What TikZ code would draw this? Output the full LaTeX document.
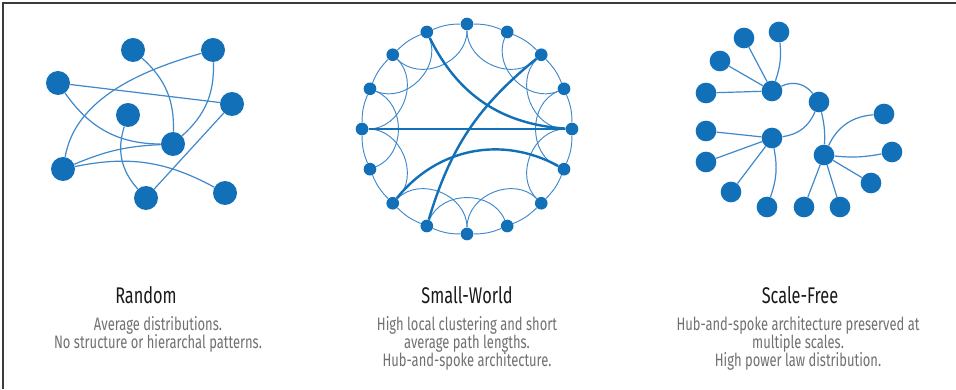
\documentclass[tikz,border=0pt]{standalone}
\usepackage{fontspec}
\setmainfont[FakeStretch=0.72]{Fira Sans}
\definecolor{netblue}{RGB}{17,112,184}
\definecolor{linkblue}{RGB}{62,136,203}
\definecolor{capgray}{RGB}{112,112,112}
\definecolor{framegray}{RGB}{60,60,60}

\begin{document}
\begin{tikzpicture}[x=0.75pt,y=0.75pt,every text node part/.style={align=center},
	rnode/.style={circle,fill=netblue,inner sep=0pt,minimum size=18pt},
	swnode/.style={circle,fill=netblue,inner sep=0pt,minimum size=9.5pt},
	sfnode/.style={circle,fill=netblue,inner sep=0pt,minimum size=15.5pt},
	link/.style={linkblue,line width=0.9pt},
	swlink/.style={linkblue,line width=0.7pt},
	shortcut/.style={netblue,line width=1.8pt},
	title/.style={font=\fontsize{17}{20}\selectfont,text=black!90},
	caption/.style={font=\fontsize{13.5}{13.5}\selectfont,text=capgray}]
	\useasboundingbox (0,0) rectangle (956,389);
	\draw[framegray,line width=1.1pt] (3,0) -- (3,386) -- (956,386);
	
	%random
	\node[rnode] (ra) at (133,339) {};
	\node[rnode] (rb) at (213,339) {};
	\node[rnode] (rc) at (58,306) {};
	\node[rnode] (rd) at (232,285) {};
	\node[rnode] (re) at (128,274) {};
	\node[rnode] (rf) at (173,245) {};
	\node[rnode] (rg) at (63,220) {};
	\node[rnode] (rh) at (146,191) {};
	\node[rnode] (ri) at (225,196) {};
	\draw[link] (ra) to[bend left=25] (rf);
	\draw[link] (rb) to[bend left=25] (rf);
	\draw[link] (rc) -- (rd);
	\draw[link] (rc) to[out=-55,in=180] (rf);
	\draw[link] (rb) to[out=196,in=80,looseness=0.9] (rg);
	\draw[link] (rg) to[bend left=10] (rf);
	\draw[link] (rg) to[bend left=20] (ri);
	\draw[link] (re) to[bend right=30] (rh);
	\draw[link] (rd) -- (rh);
	
	%small world
	\begin{scope}[shift={(467,260)}]
		\foreach \i in {0,...,15}
			\node[swnode] (s\i) at ({\i*22.5}:105) {};
	\end{scope}
	\foreach \i [evaluate=\i as \j using {int(mod(\i+1,16))}] in {0,...,15}
		\draw[swlink] (s\i) to[bend right=11] (s\j);
	\foreach \a/\b [evaluate=\a as \oa using {\a*22.5+180}, evaluate=\b as \ob using {\b*22.5+180}]
		in {4/6,5/7,6/8,7/9,8/10,10/12,11/13,12/14,14/0,15/1,0/2,1/3,2/4}
		\draw[swlink] (s\a) to[out=\oa,in=\ob,looseness=1.1] (s\b);
	\draw[shortcut] (s5) to[bend right=30] (s0);
	\draw[shortcut] (s2) to[bend right=17] (s11);
	\draw[shortcut] (s8) -- (s0);
	\draw[shortcut] (s10) to[bend left=40] (s15);
	
	%scale free
	\node[sfnode] (h1) at (772,298) {};
	\node[sfnode] (h2) at (819,287) {};
	\node[sfnode] (h3) at (772,251) {};
	\node[sfnode] (h4) at (824,234) {};
	\node[sfnode] (fa) at (779,357) {};
	\node[sfnode] (fb) at (744,351) {};
	\node[sfnode] (fc) at (720,328) {};
	\node[sfnode] (fd) at (706,296) {};
	\node[sfnode] (fe) at (706,258) {};
	\node[sfnode] (ff) at (706,227) {};
	\node[sfnode] (fg) at (731,197) {};
	\node[sfnode] (fh) at (767,182) {};
	\node[sfnode] (fi) at (804,182) {};
	\node[sfnode] (fj) at (840,182) {};
	\node[sfnode] (fk) at (871,206) {};
	\node[sfnode] (fl) at (892,237) {};
	\node[sfnode] (fm) at (884,275) {};
	\draw[link] (h1) to[bend right=12] (fa);
	\foreach \n in {fb,fc,fd} \draw[link] (h1) -- (\n);
	\draw[link] (h1) to[bend left=40] (h2);
	\draw[link] (h2) to[bend left=30] (h3);
	\draw[link] (h2) to[bend left=8] (h4);
	\foreach \n in {fe,ff,fg} \draw[link] (h3) -- (\n);
	\draw[link] (h3) to[bend left=15] (fh);
	\draw[link] (h4) to[bend left=30] (fm);
	\draw[link] (h4) to[bend right=8] (fl);
	\foreach \n in {fk,fj,fi} \draw[link] (h4) -- (\n);
	
	%labels
	\node[title] (t1) at (146,94) {Random};
	\node[title] (t2) at (467,94) {Small-World};
	\node[title] (t3) at (800,94) {Scale-Free};
	\node[caption] (c1) at (158,55) {Average distributions.\\No structure or hierarchal patterns.};
	\node[caption] (c2) at (467,46) {High local clustering and short\\average path lengths.\\Hub-and-spoke architecture.};
	\node[caption] (c3) at (798,46) {Hub-and-spoke architecture preserved at\\multiple scales.\\High power law distribution.};
\end{tikzpicture}
\end{document}
